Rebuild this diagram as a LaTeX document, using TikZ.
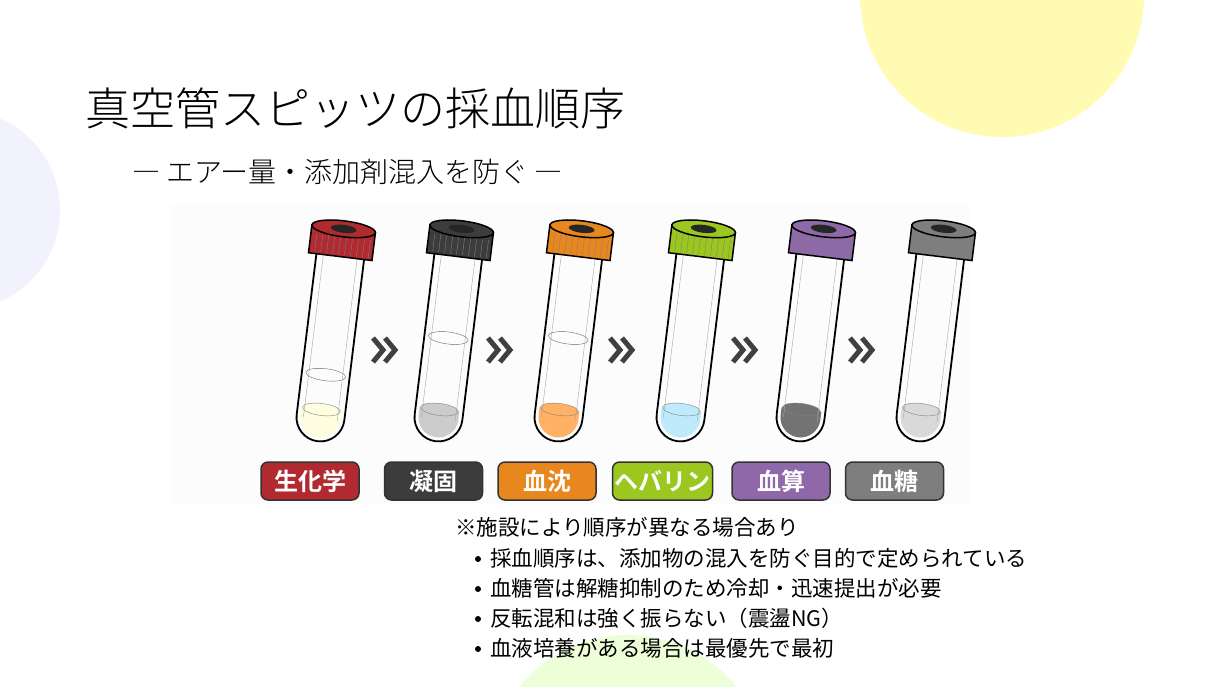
\documentclass[tikz,border=0pt]{standalone}
\usepackage{fontspec}
\newfontfamily\cjk{Noto Sans CJK JP}
\newfontfamily\cjkl{Noto Sans CJK JP Light}
\newfontfamily\cjkb{Noto Sans CJK JP Bold}
\usetikzlibrary{positioning}
\definecolor{capred}{HTML}{B02A30}
\definecolor{capblack}{HTML}{3C3C3C}
\definecolor{caporange}{HTML}{E8871E}
\definecolor{capgreen}{HTML}{9BC71F}
\definecolor{cappurple}{HTML}{8E68A8}
\definecolor{capgray}{HTML}{7E7E7E}
\tikzset{
  lab/.style={draw=black!80,line width=1.5pt,rounded corners=7pt,minimum width=98pt,minimum height=38pt,
    text=white,font=\cjkb\fontsize{24}{24}\selectfont,inner sep=2pt},
  chev/.style={line width=5pt,black!75},
  note/.style={anchor=west,font=\cjk\fontsize{21.5}{24}\selectfont,inner sep=0pt}
}
\begin{document}
\begin{tikzpicture}[x=1pt,y=-1pt]
\useasboundingbox (0,0) rectangle (1220,686);
\fill[white] (0,0) rectangle (1220,686);
% decorative circles
\fill[blue!5] (-40,210) circle (100);
\fill[yellow!30] (1002,-5) circle (142);
\fill[green!50!yellow!15] (628,775) circle (140);
\fill[black!1] (172,205) rectangle (970,505);
% titles
\node[anchor=west,font=\cjkl\fontsize{45}{48}\selectfont,inner sep=0pt] (title) at (85,108) {真空管スピッツの採血順序};
\node[anchor=west,font=\cjkl\fontsize{28}{30}\selectfont,inner sep=0pt] (sub) at (132,172) {― エアー量・添加剤混入を防ぐ ―};
% tubes
\foreach \x/\c/\liq/\ring [count=\i] in {330/capred/yellow!12/35,448/capblack/black!20/-2,568/caporange/orange!60/-2,
    690/capgreen/cyan!25/999,810/cappurple/black!55/999,930/capgray/black!15/999}{
  \begin{scope}[shift={(\x,340)},rotate=-7]
    \fill[\liq] (-20,70) -- (20,70) -- (20,78) arc (0:180:20 and 20) -- cycle;
    \draw[black!50,fill=\liq] (0,70) ellipse (19 and 6);
    \ifnum\ring<500 \draw[black!60] (0,\ring) ellipse (20 and 6); \fi
    \draw[line width=1.8pt] (-24,-90) -- (-24,78) arc (180:0:24 and 24) -- (24,-90);
    \draw[black!35] (-17,-90) -- (-17,80); \draw[black!35] (17,-90) -- (17,80);
    \draw[line width=1.5pt,fill=\c] (-32,-112) rectangle (32,-84);
    \foreach \k in {-26,-20,...,28} \draw[black!50] (\k,-104) -- (\k,-86);
    \draw[line width=1.5pt,fill=\c] (0,-112) ellipse (32 and 8);
    \fill[black!85] (0,-112) ellipse (13 and 4);
  \end{scope}
  \coordinate (t\i) at (\x,340);
}
% chevrons
\foreach \x in {385,500,622,745,862}
  \draw[chev] (\x-12,338) -- (\x-2,350) -- (\x-12,362) (\x,338) -- (\x+10,350) -- (\x,362);
% labels
\node[lab,fill=capred] (l1) at (310,481) {生化学};
\node[lab,fill=capblack,right=24pt of l1] (l2) {凝固};
\node[lab,fill=caporange,right=14pt of l2] (l3) {血沈};
\node[lab,fill=capgreen,right=15pt of l3] (l4) {ヘバリン};
\node[lab,fill=cappurple,right=18pt of l4] (l5) {血算};
\node[lab,fill=capgray,right=14pt of l5] (l6) {血糖};
% notes
\node[note] (n0) at (455,527) {※施設により順序が異なる場合あり};
\foreach \t [count=\j] in {採血順序は、添加物の混入を防ぐ目的で定められている,血糖管は解糖抑制のため冷却・迅速提出が必要,
    反転混和は強く振らない（震盪NG）,血液培養がある場合は最優先で最初}{
  \fill (478,529+30*\j) circle (3);
  \node[note] (n\j) at (490,528+30*\j) {\t};
}
\end{tikzpicture}
\end{document}
